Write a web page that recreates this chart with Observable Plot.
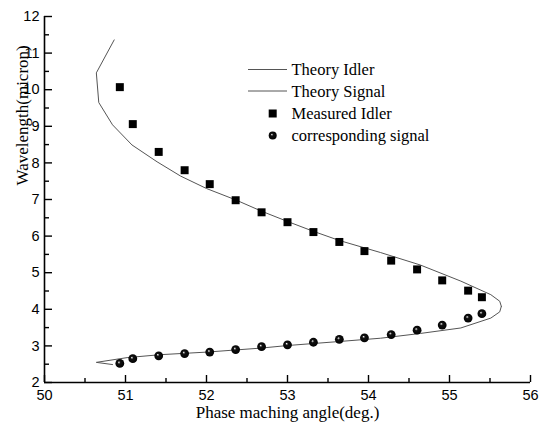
<!DOCTYPE html>
<html><head><meta charset="utf-8">
<script src="https://cdn.jsdelivr.net/npm/d3@7"></script>
<script src="https://cdn.jsdelivr.net/npm/@observablehq/plot@0.6"></script>
<style>body{margin:0;background:#fff}</style>
</head><body><div id="chart"></div>
<script>
// Measured data (phase matching angle, deg.)
const angles = [50.93,51.09,51.41,51.73,52.04,52.36,52.68,53.0,53.32,53.64,53.95,54.28,54.6,54.91,55.23,55.4];
const idlerMeasured = [10.07,9.06,8.30,7.80,7.42,6.98,6.65,6.38,6.11,5.84,5.59,5.33,5.09,4.79,4.51,4.33];
const signalMeasured = [2.52,2.65,2.73,2.79,2.83,2.90,2.98,3.03,3.10,3.18,3.22,3.31,3.43,3.57,3.76,3.88];

// Theory curves
const theoryIdlerAngle = [50.86,50.64,50.67,50.84,51.08,51.39,51.68,52.0,52.36,52.68,53.0,53.32,53.64,54.15,54.64,55.14,55.51,55.62,55.64];
const theoryIdlerWl    = [11.36,10.46,9.65,9.04,8.49,8.03,7.64,7.30,6.99,6.68,6.40,6.13,5.88,5.55,5.21,4.77,4.40,4.22,4.08];
const theorySignalAngle = [55.64,55.62,55.51,55.14,54.64,54.15,53.64,53.0,52.67,52.0,51.43,51.02,50.64,50.84];
const theorySignalWl    = [4.08,3.93,3.76,3.49,3.34,3.21,3.12,3.01,2.94,2.83,2.76,2.68,2.55,2.49];

// Ticks
const xMajor = [50,51,52,53,54,55,56];
const xMinor = [50.5,51.5,52.5,53.5,54.5,55.5];
const yMajor = [2,3,4,5,6,7,8,9,10,11,12];
const yMinor = [2.5,3.5,4.5,5.5,6.5,7.5,8.5,9.5,10.5,11.5];

const labels = {
  x: "Phase maching angle(deg.)",
  y: "Wavelength(micron)",
  legend: ["Theory Idler","Theory Signal","Measured Idler","corresponding signal"]
};

const measured = angles.map((a,i)=>({a, idler: idlerMeasured[i], signal: signalMeasured[i]}));
const idlerCurve = theoryIdlerAngle.map((a,i)=>({a, w: theoryIdlerWl[i]}));
const signalCurve = theorySignalAngle.map((a,i)=>({a, w: theorySignalWl[i]}));

const W=546, H=430, mL=44, mR=16, mT=16, mB=48;
const pw = W-mL-mR, ph = H-mT-mB;
const sans = "'Liberation Sans', Arial, sans-serif";
const serif = "'Liberation Serif', 'Times New Roman', serif";

const svg = Plot.plot({
  width: W, height: H,
  marginLeft: mL, marginRight: mR, marginTop: mT, marginBottom: mB,
  x: {domain: [50,56]},
  y: {domain: [2,12]},
  style: {background: "white", color: "black"},
  marks: [
    Plot.tickX(xMajor, {x: d=>d, insetTop: ph-7, stroke: "black", strokeWidth: 1.4}),
    Plot.tickX(xMinor, {x: d=>d, insetTop: ph-4, stroke: "black", strokeWidth: 1.4}),
    Plot.tickY(yMajor, {y: d=>d, insetRight: pw-8, stroke: "black", strokeWidth: 1.4}),
    Plot.tickY(yMinor, {y: d=>d, insetRight: pw-5, stroke: "black", strokeWidth: 1.4}),
    Plot.ruleX([50], {stroke: "black", strokeWidth: 1.6}),
    Plot.ruleY([2], {stroke: "black", strokeWidth: 1.6}),
    Plot.axisX({ticks: xMajor, tickSize: 0, tickPadding: 7, tickFormat: d3.format("d"), label: null, fontSize: 14.5, fontFamily: sans, fill: "black"}),
    Plot.axisY({ticks: yMajor, tickSize: 0, tickPadding: 5, tickFormat: d3.format("d"), label: null, fontSize: 14.5, fontFamily: sans, fill: "black"}),
    Plot.line(idlerCurve, {x: "a", y: "w", stroke: "#555", strokeWidth: 1}),
    Plot.line(signalCurve, {x: "a", y: "w", stroke: "#555", strokeWidth: 1}),
    Plot.dot(measured, {x: "a", y: "idler", symbol: "square", r: 4.5, fill: "black", stroke: "none"}),
    Plot.dot(measured, {x: "a", y: "signal", r: 4.4, fill: "url(#sphere)", stroke: "none"}),
    Plot.text([labels.x], {frameAnchor: "bottom", dy: 35, fontSize: 17, fontFamily: serif, fill: "black"}),
    Plot.text([labels.y], {frameAnchor: "left", dx: -22, dy: -14, rotate: -90, fontSize: 17, fontFamily: serif, fill: "black"})
  ]
});

const s = d3.select(svg);
const defs = s.insert("defs", ":first-child");
const g = defs.append("radialGradient").attr("id","sphere").attr("cx","50%").attr("cy","50%").attr("r","55%").attr("fx","38%").attr("fy","35%");
g.append("stop").attr("offset","0%").attr("stop-color","#fff");
g.append("stop").attr("offset","10%").attr("stop-color","#aaa");
g.append("stop").attr("offset","30%").attr("stop-color","#111");
g.append("stop").attr("offset","100%").attr("stop-color","#000");

// Legend
const lg = s.append("g").attr("font-family", serif).attr("font-size", 16.5).attr("fill", "black").attr("text-anchor", "start");
const rows = [69.5, 91, 113.5, 135.5];
[0,1].forEach(i=>{
  lg.append("line").attr("x1",248).attr("x2",287).attr("y1",rows[i]).attr("y2",rows[i]).attr("stroke","#555").attr("stroke-width",1);
});
lg.append("rect").attr("x",272.7-4).attr("y",rows[2]-4).attr("width",8).attr("height",8).attr("fill","black");
lg.append("circle").attr("cx",272.7).attr("cy",rows[3]).attr("r",4).attr("fill","url(#sphere)");
labels.legend.forEach((t,i)=>{
  lg.append("text").attr("x",291.5).attr("y",rows[i]).attr("dy","0.35em").text(t);
});

document.getElementById("chart").appendChild(svg);
</script>
</body></html>
